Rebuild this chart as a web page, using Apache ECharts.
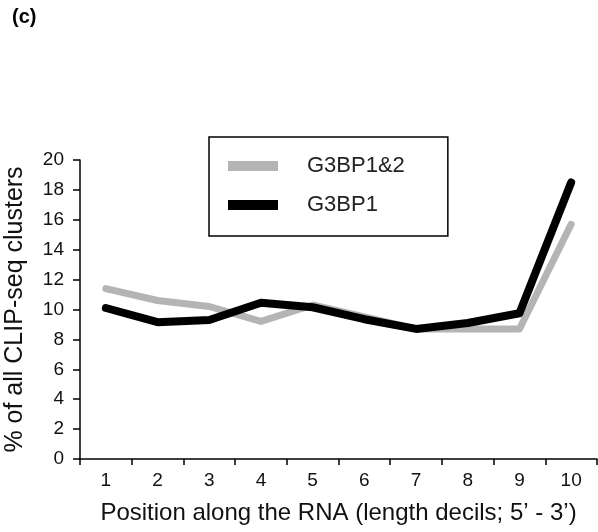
<!DOCTYPE html>
<html><head><meta charset="utf-8">
<script src="https://cdn.jsdelivr.net/npm/echarts@6/dist/echarts.min.js"></script>
<style>html,body{margin:0;padding:0;background:#fff}#c{width:598px;height:532px}</style>
</head><body><div id="c"></div>
<script>
const categories = ['1','2','3','4','5','6','7','8','9','10'];
const g3bp12 = [11.4, 10.6, 10.2, 9.2, 10.3, 9.5, 8.7, 8.7, 8.7, 15.7];
const g3bp1 = [10.1, 9.15, 9.3, 10.45, 10.15, 9.35, 8.7, 9.1, 9.75, 18.5];
const yTicks = {min: 0, max: 20, interval: 2};
const FONT = '"Liberation Sans", Arial, sans-serif';
const chart = echarts.init(document.getElementById('c'), null, {renderer: 'canvas'});
chart.setOption({
  animation: false,
  backgroundColor: '#fff',
  title: {text: '(c)', left: 12, top: 7, padding: 0, textStyle: {fontFamily: FONT, fontSize: 20, fontWeight: 'bold', color: '#000'}},
  grid: {left: 80, right: 1, top: 160, bottom: 73, containLabel: false, outerBoundsMode: 'none'},
  legend: {
    orient: 'vertical', left: 209, top: 137,
    padding: [18, 43, 20, 19],
    borderColor: '#000', borderWidth: 1.5,
    itemWidth: 50, itemHeight: 10, itemGap: 17,
    icon: 'rect',
    textStyle: {fontFamily: FONT, fontSize: 22, color: '#222', padding: [0, 0, 0, 24]},
    data: ['G3BP1&2', 'G3BP1']
  },
  xAxis: {
    type: 'category', data: categories, boundaryGap: true,
    name: 'Position along the RNA (length decils; 5\u2019 - 3\u2019)',
    nameLocation: 'middle', nameGap: 42,
    nameTextStyle: {fontFamily: FONT, fontSize: 24, color: '#111'},
    axisLine: {lineStyle: {color: '#000', width: 1.5}},
    axisTick: {show: true, alignWithLabel: false, length: 6, lineStyle: {color: '#000', width: 1.5}},
    axisLabel: {fontFamily: FONT, fontSize: 19, color: '#111', margin: 12},
    splitLine: {show: false}
  },
  yAxis: {
    type: 'value', min: yTicks.min, max: yTicks.max, interval: yTicks.interval,
    name: '% of all CLIP-seq clusters',
    nameLocation: 'middle', nameGap: 52,
    nameTextStyle: {fontFamily: FONT, fontSize: 25, color: '#111'},
    axisLine: {show: true, lineStyle: {color: '#000', width: 1.5}},
    axisTick: {show: true, length: 7, lineStyle: {color: '#000', width: 1.5}},
    axisLabel: {fontFamily: FONT, fontSize: 19, color: '#111', margin: 16},
    splitLine: {show: false}
  },
  series: [
    {name: 'G3BP1&2', type: 'line', data: g3bp12, symbol: 'none',
     lineStyle: {color: '#b4b4b4', width: 7, cap: 'round', join: 'round'}, itemStyle: {color: '#b4b4b4'}},
    {name: 'G3BP1', type: 'line', data: g3bp1, symbol: 'none',
     lineStyle: {color: '#000', width: 8, cap: 'round', join: 'round'}, itemStyle: {color: '#000'}}
  ]
});
</script></body></html>
